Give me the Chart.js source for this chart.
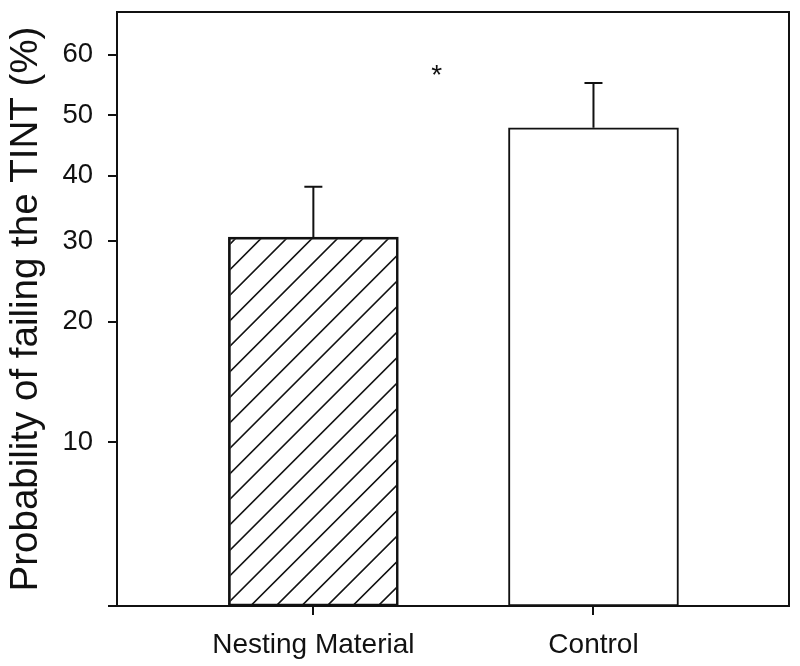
<!DOCTYPE html>
<html>
<head>
<meta charset="utf-8">
<script src="https://cdn.jsdelivr.net/npm/chart.js@4.4.1/dist/chart.umd.min.js"></script>
<style>
  html, body { margin: 0; padding: 0; background: #ffffff; }
  #wrap { width: 800px; height: 666px; }
</style>
</head>
<body>
<div id="wrap"><canvas id="c" width="800" height="666"></canvas></div>
<script>
// ---- data (percent) ----
const categories = ['Nesting Material', 'Control'];
const means = [30.6, 47.9];
const errors = [7.6, 7.5];
const yTicks = [10, 20, 30, 40, 50, 60];
const yMin = 3.57;
const yMax = 66.67;
const significance = { label: '*', x: 1.44, y: 57.2 };

// ---- styles ----
const hatched = [true, false];
const INK = '#111111';
const FONT = '"Liberation Sans", Arial, sans-serif';

// ---- logit (probability) scale ----
const logit = v => Math.log(v / (100 - v));
const invLogit = l => 100 / (1 + Math.exp(-l));

class LogitScale extends Chart.Scale {
  constructor(cfg) { super(cfg); this._startValue = 0; this._valueRange = 1; }
  parse(raw) { const v = +raw; return isFinite(v) ? v : null; }
  determineDataLimits() {
    const { min, max } = this.getMinMax(true);
    this.min = isFinite(this.options.min) ? this.options.min : min;
    this.max = isFinite(this.options.max) ? this.options.max : max;
  }
  buildTicks() {
    const tv = this.options.tickValues || [];
    return tv.map(v => ({ value: v }));
  }
  getLabelForValue(v) { return String(v); }
  configure() {
    super.configure();
    this._startValue = logit(this.min);
    this._valueRange = logit(this.max) - this._startValue;
  }
  getPixelForValue(value) {
    if (value === undefined || value === null || value <= this.min) value = this.min;
    if (value >= 99.9999) value = 99.9999;
    return this.getPixelForDecimal((logit(value) - this._startValue) / this._valueRange);
  }
  getValueForPixel(pixel) {
    const d = this.getDecimalForPixel(pixel);
    return invLogit(this._startValue + d * this._valueRange);
  }
}
LogitScale.id = 'logit';
LogitScale.defaults = {};
Chart.register(LogitScale);

// ---- plugins ----
const hatchPlugin = {
  id: 'hatch',
  beforeDatasetsDraw(chart) {
    const meta = chart.getDatasetMeta(0);
    const ctx = chart.ctx;
    meta.data.forEach((el, i) => {
      if (!hatched[i]) return;
      const { x, y, base, width } = el.getProps(['x', 'y', 'base', 'width'], true);
      const left = x - width / 2, right = x + width / 2;
      ctx.save();
      ctx.beginPath();
      ctx.rect(left + 2, y + 2, width - 4, base - y - 4);
      ctx.clip();
      ctx.strokeStyle = INK;
      ctx.lineWidth = 1.6;
      const step = 25.5;
      const c0 = x + y; // a line passes through the top centre
      const cMin = left + y, cMax = right + base;
      const k = Math.floor((cMin - c0) / step) - 1;
      ctx.beginPath();
      for (let c = c0 + k * step; c <= cMax + step; c += step) {
        ctx.moveTo(left - 5, c - (left - 5));
        ctx.lineTo(right + 5, c - (right + 5));
      }
      ctx.stroke();
      ctx.restore();
    });
  }
};

const errorBarPlugin = {
  id: 'errorbars',
  afterDatasetsDraw(chart) {
    const meta = chart.getDatasetMeta(0);
    const ys = chart.scales.y;
    const ctx = chart.ctx;
    ctx.save();
    ctx.strokeStyle = INK;
    ctx.lineWidth = 2;
    meta.data.forEach((el, i) => {
      const { x, y } = el.getProps(['x', 'y'], true);
      const top = ys.getPixelForValue(means[i] + errors[i]);
      ctx.beginPath();
      ctx.moveTo(x, y);
      ctx.lineTo(x, top);
      ctx.moveTo(x - 9, top);
      ctx.lineTo(x + 9, top);
      ctx.stroke();
    });
    ctx.restore();
  }
};

const framePlugin = {
  id: 'frame',
  afterDraw(chart) {
    const { left, right, top, bottom } = chart.chartArea;
    const ctx = chart.ctx;
    ctx.save();
    ctx.strokeStyle = INK;
    ctx.lineWidth = 2;
    ctx.beginPath();
    ctx.moveTo(left, bottom);
    ctx.lineTo(left, top);
    ctx.lineTo(right, top);
    ctx.lineTo(right, bottom);
    ctx.moveTo(left - 9, bottom);
    ctx.lineTo(right, bottom);
    ctx.stroke();
    const xs = chart.scales.x, ys = chart.scales.y;
    ctx.fillStyle = INK;
    ctx.font = '28px ' + FONT;
    ctx.textAlign = 'center';
    ctx.textBaseline = 'middle';
    ctx.fillText(significance.label, xs.getPixelForValue(significance.x), ys.getPixelForValue(significance.y) + 4);
    ctx.restore();
  }
};

new Chart(document.getElementById('c'), {
  type: 'bar',
  data: {
    datasets: [{
      data: categories.map((c, i) => ({ x: i + 1, y: means[i] })),
      backgroundColor: hatched.map(h => h ? 'rgba(255,255,255,0)' : '#ffffff'),
      borderColor: INK,
      borderWidth: 2,
      borderSkipped: false,
      barThickness: 170
    }]
  },
  options: {
    responsive: false,
    animation: false,
    events: [],
    layout: { padding: { top: 12, right: 11, left: 0, bottom: 0 } },
    plugins: { legend: { display: false }, tooltip: { enabled: false } },
    scales: {
      x: {
        type: 'linear',
        offset: false,
        min: 0.299,
        max: 2.698,
        afterBuildTicks: s => { s.ticks = categories.map((c, i) => ({ value: i + 1 })); },
        afterFit: s => { s.height = 60; s.paddingLeft = 0; s.paddingRight = 0; },
        ticks: {
          autoSkip: false,
          maxRotation: 0,
          padding: 13,
          color: INK,
          font: { size: 28, family: FONT },
          callback: v => categories[Math.round(v) - 1] || ''
        },
        grid: { offset: false, drawOnChartArea: false, drawTicks: true, tickLength: 9, color: INK, lineWidth: 2 },
        border: { display: true, color: INK, width: 2 }
      },
      y: {
        type: 'logit',
        min: yMin,
        max: yMax,
        tickValues: yTicks,
        afterFit: s => { s.width = 117; s.paddingTop = 0; s.paddingBottom = 0; },
        ticks: {
          padding: 15,
          color: INK,
          font: { size: 27.5, family: FONT }
        },
        grid: { drawOnChartArea: false, drawTicks: true, tickLength: 9, color: INK, lineWidth: 2 },
        border: { display: true, color: INK, width: 2 },
        title: {
          display: true,
          text: 'Probability of failing the TINT (%)',
          color: INK,
          font: { size: 38.5, family: FONT },
          padding: { top: 3, bottom: 0 }
        }
      }
    }
  },
  plugins: [hatchPlugin, errorBarPlugin, framePlugin]
});
</script>
</body>
</html>
